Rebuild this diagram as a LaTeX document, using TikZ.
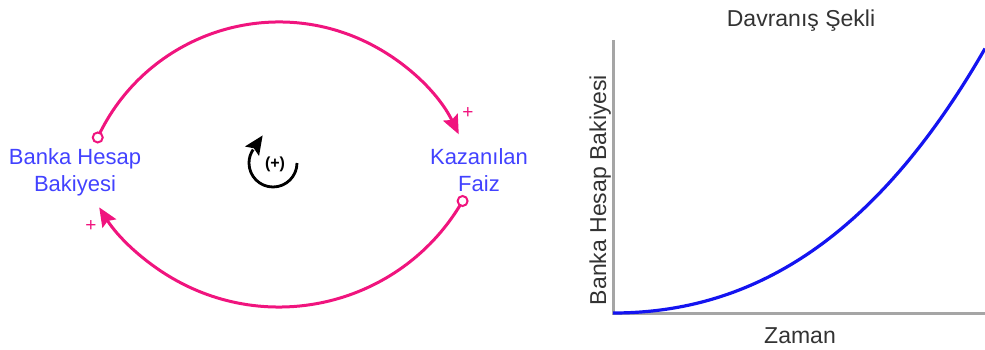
\documentclass[tikz,border=0pt]{standalone}
\usepackage{fontspec}
\setmainfont{Liberation Sans}
\usetikzlibrary{arrows.meta,calc}
\definecolor{linkc}{RGB}{240,20,126}
\definecolor{vartext}{RGB}{66,66,255}
\definecolor{axisc}{RGB}{165,165,165}
\definecolor{curvec}{RGB}{20,20,240}
\begin{document}
\begin{tikzpicture}[x=1pt,y=1pt,
  varlabel/.style={inner sep=0pt, align=center, text=vartext, anchor=north,
     font=\fontsize{22}{27}\selectfont},
  link/.style={draw=linkc, line width=3pt,
     -{Stealth[length=19pt,width=16pt,inset=3pt]}},
  linkstart/.style={circle, draw=linkc, fill=white, line width=2pt,
     minimum size=10pt, inner sep=0pt},
  polarity/.style={text=linkc, inner sep=0pt, font=\fontsize{19}{19}\selectfont},
  charttext/.style={inner sep=0pt, anchor=base, text=black!80,
     font=\fontsize{23}{23}\selectfont},
  loopmark/.style={line width=2.8pt, draw=black}
]
\useasboundingbox (0,0) rectangle (985,349);

% variables
\node[varlabel] (bal) at (75,201) {Banka Hesap\\Bakiyesi};
\node[varlabel] (int) at (479,201) {Kazanılan\\Faiz};

% connector anchor points
\coordinate (ctop) at (279,127);
\coordinate (cbot) at (279,254);
\coordinate (t1) at ($(ctop)+(155:200)$);
\coordinate (b1) at ($(cbot)+(-30:212)$);

\draw[link] (t1) arc[start angle=155, end angle=26, radius=200];
\draw[link] (b1) arc[start angle=-30, end angle=-148, radius=212];
\node[linkstart] (t1c) at (t1) {};
\node[linkstart] (b1c) at (b1) {};

\node[polarity] (p1) at (468,236) {+};
\node[polarity] (p2) at (91,123) {+};

% loop marker
\coordinate (lc) at (273,186);
\coordinate (ls) at ($(lc)+(0:24)$);
\coordinate (le) at ($(lc)+(146:24)$);
\draw[loopmark] (ls) arc[start angle=0, end angle=-214, radius=24];
\fill[black, shift={(le)}, rotate=56] (17,0) -- (-2,8.5) -- (1.5,0) -- (-2,-8.5) -- cycle;
\node[inner sep=0pt, font=\fontsize{16}{16}\selectfont\bfseries] (lp) at (275,185) {(+)};

% behaviour graph
\coordinate (o) at (613,36);
\coordinate (ytop) at (613,309);
\coordinate (xend) at (985,36);
\draw[axisc, line width=3pt] (ytop) -- (o) -- (xend);
\draw[curvec, line width=3.2pt] plot[domain=0:372, samples=90]
  ({613+\x},{36+281*(exp(0.003*\x)-1-0.003*\x)});
\node[charttext] (title) at (801,323) {Davranış Şekli};
\node[charttext] (xlab) at (800,6) {Zaman};
\node[charttext, rotate=90] (ylab) at (606,159) {Banka Hesap Bakiyesi};
\end{tikzpicture}
\end{document}
